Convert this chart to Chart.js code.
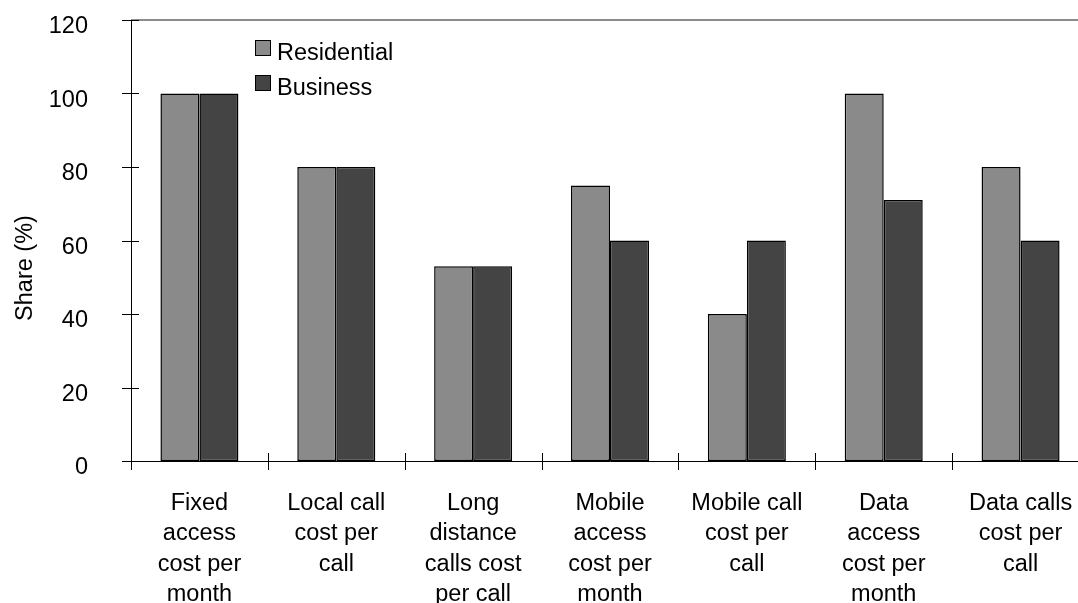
<!DOCTYPE html>
<html lang="en">
<head>
    <meta charset="UTF-8">
    <title>Share by cost item</title>
    <style>
        html, body { margin: 0; padding: 0; background: #fff; overflow: hidden; }
        #grafico { display: block; }
    </style>
</head>
<body>
    <canvas id="grafico" width="1100" height="603"></canvas>

<script src="https://cdn.jsdelivr.net/npm/chart.js"></script>
<script>
    // categorias e valores (%)
    const categorias = [
        ["Fixed", "access", "cost per", "month"],
        ["Local call", "cost per", "call"],
        ["Long", "distance", "calls cost", "per call"],
        ["Mobile", "access", "cost per", "month"],
        ["Mobile call", "cost per", "call"],
        ["Data", "access", "cost per", "month"],
        ["Data calls", "cost per", "call"]
    ];
    const residencial = [100, 80, 53, 75, 40, 100, 80];
    const empresarial = [100, 80, 53, 60, 60, 71, 60];
    const ticksY = [0, 20, 40, 60, 80, 100, 120];

    const fonte = '"Liberation Sans", Arial, sans-serif';
    const tamFonte = 23.5;

    // legenda desenhada dentro do gráfico + marcas cruzando os eixos + título do eixo y
    const extras = {
        id: 'extras',
        afterDraw(chart) {
            const ctx = chart.ctx;
            const area = chart.chartArea;
            const x = chart.scales.x;
            const y = chart.scales.y;
            ctx.save();

            // eixo y um pouco abaixo do eixo x
            ctx.strokeStyle = '#000';
            ctx.lineWidth = 1;
            ctx.beginPath();
            ctx.moveTo(area.left + 0.5, area.top);
            ctx.lineTo(area.left + 0.5, area.bottom + 9);
            ctx.stroke();

            // marcas do eixo y
            ticksY.forEach(v => {
                const py = Math.round(y.getPixelForValue(v)) + 0.5;
                ctx.beginPath();
                ctx.moveTo(area.left - 9, py);
                ctx.lineTo(area.left + 8, py);
                ctx.stroke();
            });

            // marcas do eixo x entre as categorias
            const passo = x.getPixelForValue(1) - x.getPixelForValue(0);
            for (let i = 0; i <= categorias.length; i++) {
                const px = Math.round(x.getPixelForValue(i) - passo / 2) + 0.5;
                ctx.beginPath();
                ctx.moveTo(px, area.bottom - 8);
                ctx.lineTo(px, area.bottom + 9);
                ctx.stroke();
            }

            // legenda
            ctx.font = tamFonte + 'px ' + fonte;
            ctx.textBaseline = 'alphabetic';
            ctx.textAlign = 'left';
            const itens = chart.data.datasets;
            itens.forEach((ds, i) => {
                const top = 40 + i * 35;
                ctx.fillStyle = ds.backgroundColor;
                ctx.fillRect(255, top, 15, 15);
                ctx.strokeStyle = '#000';
                ctx.strokeRect(255.5, top + 0.5, 15, 15);
                ctx.fillStyle = '#000';
                ctx.fillText(ds.label, 277, top + 20);
            });

            // título do eixo y
            ctx.translate(32, 268);
            ctx.rotate(-Math.PI / 2);
            ctx.textAlign = 'center';
            ctx.fillText('Share (%)', 0, 0);

            ctx.restore();
        }
    };

    new Chart(document.getElementById('grafico'), {
        type: 'bar',
        data: {
            labels: categorias,
            datasets: [
                {
                    label: 'Residential',
                    data: residencial,
                    backgroundColor: '#8a8a8a',
                    borderColor: '#000',
                    borderWidth: 1.5,
                    borderSkipped: false
                },
                {
                    label: 'Business',
                    data: empresarial,
                    backgroundColor: '#444444',
                    borderColor: '#000',
                    borderWidth: 1.5,
                    borderSkipped: false
                }
            ]
        },
        options: {
            responsive: false,
            animation: false,
            events: [],
            layout: { padding: { top: 20, right: 11, left: 0, bottom: 0 } },
            datasets: {
                bar: { categoryPercentage: 0.57, barPercentage: 1.0 }
            },
            plugins: {
                legend: { display: false },
                tooltip: { enabled: false }
            },
            scales: {
                x: {
                    offset: true,
                    grid: { display: false, drawTicks: false },
                    border: { display: true, color: '#000', width: 1 },
                    ticks: {
                        color: '#000',
                        padding: 27,
                        maxRotation: 0,
                        autoSkip: false,
                        font: { family: fonte, size: tamFonte, lineHeight: 1.3 }
                    },
                    afterFit(scale) {
                        scale.height = 142;
                        scale.paddingLeft = 0;
                        scale.paddingRight = 0;
                    }
                },
                y: {
                    min: 0,
                    max: 120,
                    grid: {
                        drawTicks: false,
                        color: c => c.tick && c.tick.value === 120 ? '#8c8c8c' : 'rgba(0,0,0,0)',
                        lineWidth: c => c.tick && c.tick.value === 120 ? 2 : 0
                    },
                    border: { display: false },
                    ticks: {
                        stepSize: 20,
                        color: '#000',
                        padding: 43,
                        labelOffset: 7,
                        font: { family: fonte, size: tamFonte }
                    },
                    afterFit(scale) {
                        // o padding dos rótulos não deve empurrar a área do gráfico
                        scale.width = 131;
                        scale.paddingTop = 0;
                        scale.paddingBottom = 0;
                    }
                }
            }
        },
        plugins: [extras]
    });
</script>
</body>
</html>
